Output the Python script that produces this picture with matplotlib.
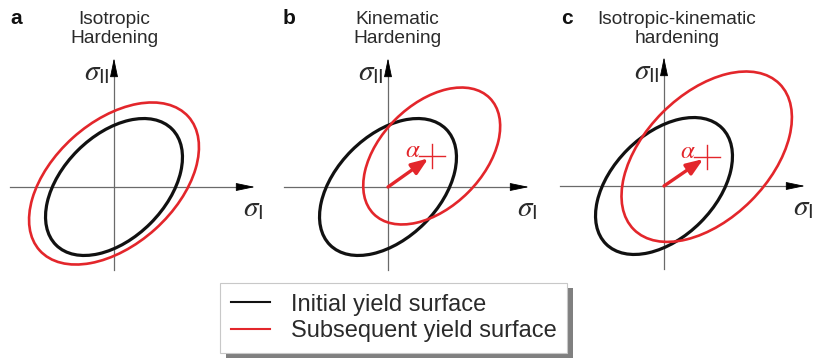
import matplotlib
matplotlib.use("Agg")
import matplotlib.pyplot as plt
from matplotlib.patches import Ellipse, Rectangle
from matplotlib.lines import Line2D
from matplotlib.transforms import IdentityTransform

plt.rcParams['font.family'] = ['Liberation Sans', 'DejaVu Sans']
plt.rcParams['mathtext.fontset'] = 'custom'
plt.rcParams['mathtext.it'] = 'STIXGeneral:italic'
plt.rcParams['mathtext.rm'] = 'Liberation Sans'
plt.rcParams['mathtext.sf'] = 'Liberation Sans'
plt.rcParams['mathtext.fallback'] = 'stix'

# ---------------- data ----------------
panel_letters = ['a', 'b', 'c']
panel_titles = ['Isotropic\nHardening', 'Kinematic\nHardening',
                'Isotropic-kinematic\nhardening']

# initial yield surface (stress units, origin at axes cross)
init_center = [(0.0, 0.0), (0.0, 0.0), (0.0, 0.0)]
init_semi_major = [82.0, 82.0, 82.0]
init_semi_minor = [51.5, 51.5, 51.5]
init_angle = [45.0, 45.0, 45.0]

# subsequent yield surface
sub_center = [(0.0, 3.5), (43.7, 31.0), (42.7, 29.3)]
sub_semi_major = [100.0, 82.0, 103.0]
sub_semi_minor = [61.5, 51.5, 62.5]
sub_angle = [42.0, 45.0, 45.0]

# back stress alpha drawn?
show_alpha = [False, True, True]

legend_labels = ['Initial yield surface', 'Subsequent yield surface']

# ---------------- style / layout ----------------
W_PX, H_PX, DPI = 815, 358, 100
RED = '#e3262b'
BLACK = '#111111'
AXGRAY = '#6a6a6a'
TXT = '#2a2a2a'

origins_px = [(114, 187), (388, 187), (664, 186)]
title_dx = [0.5, 9, 13]
letter_px = [(16, 18), (289, 18), (567, 19)]

XL, XR, YB, YT = -112, 150, -92, 140
AX_LEFT, AX_RIGHT, AX_BOT, AX_TOP = -104, 141, -83, 129

fig = plt.figure(figsize=(W_PX / DPI, H_PX / DPI), dpi=DPI)
fig.patch.set_facecolor('white')


def fx(x):
    return x / W_PX


def fy(y):
    return 1 - y / H_PX


for i in range(3):
    ox, oy = origins_px[i]
    ax = fig.add_axes([fx(ox + XL), fy(oy - YB), (XR - XL) / W_PX, (YT - YB) / H_PX])
    ax.set_xlim(XL, XR)
    ax.set_ylim(YB, YT)
    ax.axis('off')

    # coordinate axes
    ax.plot([AX_LEFT, AX_RIGHT - 10], [0, 0], color=AXGRAY, lw=0.9, zorder=1)
    ax.plot([0, 0], [AX_BOT, AX_TOP - 10], color=AXGRAY, lw=0.9, zorder=1)
    hs = dict(arrowstyle='-|>,head_length=1.2,head_width=0.25', color='black',
              lw=0.6, shrinkA=0, shrinkB=0, mutation_scale=10)
    ax.annotate('', xy=(AX_RIGHT, 0), xytext=(AX_RIGHT - 17, 0), arrowprops=hs)
    ax.annotate('', xy=(0, AX_TOP), xytext=(0, AX_TOP - 17), arrowprops=hs)

    ax.text(-4, 115, r'$\sigma_{\mathrm{II}}$', ha='right', va='center',
            fontsize=21, color=TXT)
    ax.text(139, -21, r'$\sigma_{\mathrm{I}}$', ha='center', va='center',
            fontsize=21, color=TXT)

    # yield surfaces
    ax.add_patch(Ellipse(init_center[i], 2 * init_semi_major[i], 2 * init_semi_minor[i],
                         angle=init_angle[i], fill=False, edgecolor=BLACK, lw=2.3, zorder=3))
    ax.add_patch(Ellipse(sub_center[i], 2 * sub_semi_major[i], 2 * sub_semi_minor[i],
                         angle=sub_angle[i], fill=False, edgecolor=RED, lw=1.9, zorder=4))

    if show_alpha[i]:
        cx, cy = sub_center[i]
        ax.annotate('', xy=(cx, cy), xytext=(0, 0),
                    arrowprops=dict(arrowstyle='-|>,head_length=1.0,head_width=0.38',
                                    color=RED, lw=2.4, shrinkA=0, shrinkB=3,
                                    mutation_scale=10), zorder=5)
        ax.plot([cx - 13, cx + 13], [cy, cy], color=RED, lw=1.0, zorder=5)
        ax.plot([cx, cx], [cy - 12, cy + 12], color=RED, lw=1.0, zorder=5)
        ax.text(cx - 19, cy + 6, r'$\alpha$', color=RED, fontsize=18,
                ha='center', va='center', zorder=6)

    # titles
    fig.text(fx(ox + title_dx[i]), fy(29), panel_titles[i], ha='center', va='center',
             fontsize=13.8, color=TXT, linespacing=1.1)
    lx, ly = letter_px[i]
    fig.text(fx(lx), fy(ly), panel_letters[i], ha='center', va='center',
             fontsize=15, fontweight='bold', color=BLACK)

handles = [Line2D([], [], color=BLACK, lw=1.5), Line2D([], [], color=RED, lw=1.5)]
leg = fig.legend(handles, legend_labels, loc='upper left',
                 bbox_to_anchor=(fx(220), fy(283)), borderaxespad=0,
                 fontsize=17, handlelength=1.65, handletextpad=0.9,
                 borderpad=0.45, labelspacing=0.2, frameon=True, fancybox=False,
                 edgecolor='#c8c8c8', framealpha=1, labelcolor=TXT)
leg.get_frame().set_linewidth(0.8)
leg.set_zorder(10)

fig.canvas.draw()
bb = leg.get_window_extent()
shadow = Rectangle((bb.x0 + 6, bb.y0 - 5), bb.width, bb.height,
                   transform=IdentityTransform(), facecolor='#808080',
                   edgecolor='none', zorder=9)
fig.add_artist(shadow)

fig.savefig('out.png', dpi=DPI)
